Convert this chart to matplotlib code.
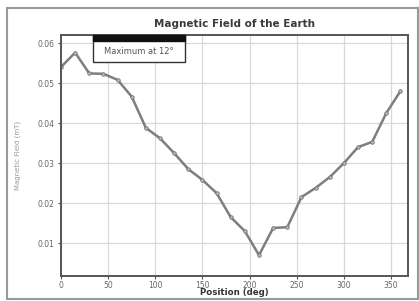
import matplotlib
matplotlib.use("Agg")
import matplotlib.pyplot as plt
from matplotlib.patches import Rectangle

# data
position = [0, 15, 30, 45, 60, 75, 90, 105, 120, 135, 150, 165, 180,
            195, 210, 225, 240, 255, 270, 285, 300, 315, 330, 345, 360]
field = [0.0540, 0.0576, 0.0524, 0.0523, 0.0508, 0.0466, 0.0388, 0.0362,
         0.0325, 0.0285, 0.0258, 0.0225, 0.0165, 0.0130, 0.0070, 0.0138,
         0.0140, 0.0215, 0.0238, 0.0265, 0.0300, 0.0340, 0.0353, 0.0425,
         0.0480]
xticks = [0, 50, 100, 150, 200, 250, 300, 350]
yticks = [0.01, 0.02, 0.03, 0.04, 0.05, 0.06]
note = "Maximum at 12\u00b0"

fig = plt.figure(figsize=(4.19, 3.01), dpi=100)
fig.patch.set_facecolor("white")
# grey frame round the whole figure
fig.patches.append(Rectangle((7 / 419, 2 / 301), 411 / 419, 291 / 301,
                             transform=fig.transFigure, fill=False,
                             edgecolor="#9a9a9a", linewidth=1.5))

ax = fig.add_axes([61 / 419, 1 - 276 / 301, 347 / 419, 241 / 301])
ax.plot(position, field, color="#7e7e7e", linewidth=1.8, marker="o",
        markersize=2.5, markerfacecolor="#bdbdbd", markeredgecolor="#707070",
        markeredgewidth=0.6)

ax.set_xlim(0, 368)
ax.set_ylim(0.0018, 0.062)
ax.set_xticks(xticks)
ax.set_yticks(yticks)
ax.set_yticklabels([f"{v:.2f}" for v in yticks])
ax.grid(True, color="#d9d9d9", linewidth=0.9)
ax.set_axisbelow(True)
ax.tick_params(labelsize=5.5, colors="#555555", length=2.5, width=0.8,
               labelcolor="#666666", pad=2)
ax.tick_params(axis="x", pad=1)
for s in ax.spines.values():
    s.set_color("#555555")
    s.set_linewidth(1.4)

ax.set_title("Magnetic Field of the Earth", fontsize=7.5, fontweight="bold",
             color="#3a3a3a", pad=6)
ax.set_xlabel("Position (deg)", fontsize=6.2, fontweight="bold",
              color="#333333", labelpad=-1)
ax.set_ylabel("Magnetic Field (mT)", fontsize=5, color="#999999",
              labelpad=12)

# note box with the dark header strip
ax.add_patch(Rectangle((0.092, 0.888), 0.264, 0.112, transform=ax.transAxes,
                       facecolor="white", edgecolor="#333333", linewidth=1.0,
                       zorder=5, clip_on=False))
ax.add_patch(Rectangle((0.092, 0.975), 0.264, 0.025, transform=ax.transAxes,
                       facecolor="#111111", edgecolor="#111111", linewidth=1.0,
                       zorder=6, clip_on=False))
ax.text(0.224, 0.932, note, transform=ax.transAxes, ha="center", va="center",
        fontsize=6, color="#555555", zorder=7)

fig.savefig("out.png", dpi=100)
